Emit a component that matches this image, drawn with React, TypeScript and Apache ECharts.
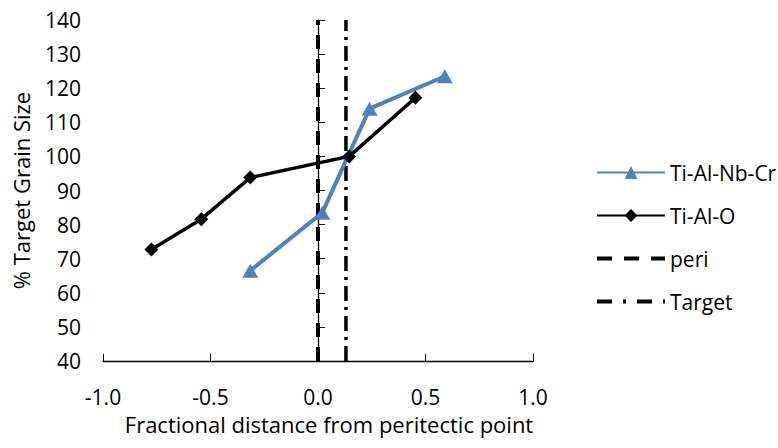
import React, { useEffect, useRef } from "react";
import * as echarts from "echarts";

const xTicks = [-1.0, -0.5, 0.0, 0.5, 1.0];
const nbCrX = [-0.315, 0.02, 0.24, 0.59];
const nbCrY = [66.5, 83.5, 114, 123.5];
const alOX = [-0.775, -0.543, -0.315, 0.145, 0.453];
const alOY = [72.7, 81.6, 93.8, 100, 117.2];
const periX = [0, 0];
const targetX = [0.13, 0.13];
const vertY = [40, 140];

const FONT = "'Open Sans', sans-serif";

export default function App() {
  const ref = useRef<HTMLDivElement>(null);
  useEffect(() => {
    document.body.style.margin = "0";
    if (!ref.current) return;
    const chart = echarts.init(ref.current, undefined, { renderer: "svg" });
    const zip = (xs: number[], ys: number[]) => xs.map((x, i) => [x, ys[i]]);
    chart.setOption({
      animation: false,
      grid: { left: 103, right: 245, top: 20, bottom: 87 },
      legend: {
        orient: "vertical",
        left: 590,
        top: 157,
        itemWidth: 68,
        itemHeight: 16,
        itemGap: 22,
        textStyle: { fontFamily: FONT, fontSize: 21, color: "#000" },
        data: [
          "Ti-Al-Nb-Cr",
          "Ti-Al-O",
          { name: "peri", itemStyle: { opacity: 0 }, lineStyle: { type: [15, 12], width: 4 } },
          { name: "Target", itemStyle: { opacity: 0 }, lineStyle: { type: [15, 11, 3, 11], width: 4 } },
        ],
      },
      xAxis: {
        type: "value",
        min: -1,
        max: 1,
        interval: 0.5,
        name: "Fractional distance from peritectic point",
        nameLocation: "middle",
        nameGap: 52,
        nameTextStyle: { fontFamily: FONT, fontSize: 22, color: "#000", padding: [0, 0, 0, 22] },
        axisLine: { lineStyle: { color: "#000", width: 1.3 } },
        axisTick: { inside: true, length: 7, lineStyle: { color: "#000" } },
        splitLine: { show: false },
        axisLabel: {
          fontFamily: FONT,
          fontSize: 21,
          color: "#000",
          margin: 25,
          formatter: (v: number) => v.toFixed(1),
        },
      },
      yAxis: {
        type: "value",
        min: 40,
        max: 140,
        interval: 10,
        name: "% Target Grain Size",
        nameLocation: "middle",
        nameGap: 71,
        nameTextStyle: { fontFamily: FONT, fontSize: 22, color: "#000" },
        axisLine: { show: true, lineStyle: { color: "#000", width: 1.3 } },
        axisTick: { show: true, inside: true, length: 7, lineStyle: { color: "#000" } },
        splitLine: { show: false },
        axisLabel: { fontFamily: FONT, fontSize: 21, color: "#000", margin: 22 },
      },
      series: [
        {
          name: "Ti-Al-Nb-Cr",
          type: "line",
          data: zip(nbCrX, nbCrY),
          symbol: "triangle",
          symbolSize: [16, 14],
          lineStyle: { color: "#4f81bd", width: 4 },
          itemStyle: { color: "#4f81bd" },
          z: 3,
        },
        {
          name: "Ti-Al-O",
          type: "line",
          data: zip(alOX, alOY),
          symbol: "diamond",
          symbolSize: 14,
          lineStyle: { color: "#000", width: 3.5 },
          itemStyle: { color: "#000" },
          z: 4,
        },
        {
          name: "peri",
          type: "line",
          data: zip(periX, vertY),
          symbol: "none",
          lineStyle: { color: "#000", width: 4, type: [14, 10] },
          itemStyle: { color: "#000" },
          z: 2,
        },
        {
          name: "Target",
          type: "line",
          data: zip(targetX, vertY),
          symbol: "none",
          lineStyle: { color: "#000", width: 3.5, type: [15, 6, 3, 6] },
          itemStyle: { color: "#000" },
          z: 2,
        },
      ],
    });
    return () => chart.dispose();
  }, []);
  return <div ref={ref} style={{ width: 778, height: 448 }} />;
}
